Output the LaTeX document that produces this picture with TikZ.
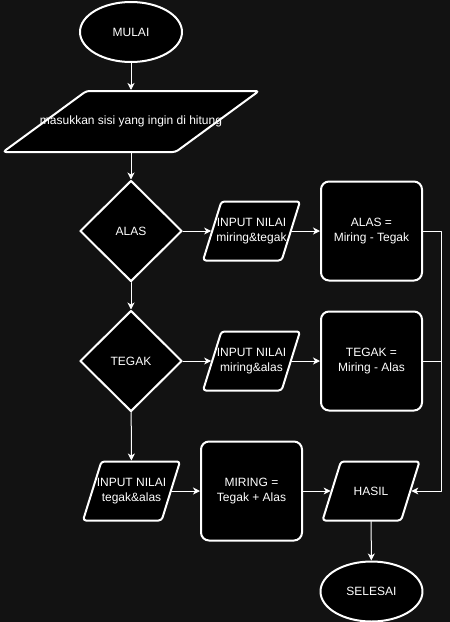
\documentclass[tikz,border=0pt]{standalone}
\usepackage{fontspec}
\setmainfont{Liberation Sans}
\usetikzlibrary{shapes.geometric,arrows.meta}

\begin{document}
\begin{tikzpicture}
		[x=1pt,y=-1pt,line cap=round,line join=round,
		%Styles
		base/.style={draw=white,line width=2pt,fill=black,text=white,font=\fontsize{12}{15}\selectfont,align=center,inner sep=2pt},
		terminal/.style={base,ellipse,minimum width=102pt,minimum height=60pt},
		decision/.style={base,diamond,minimum width=102pt,minimum height=101pt},
		process box/.style={base,rectangle,rounded corners=8pt,minimum width=101pt,minimum height=99pt},
		io box/.style={base,trapezium,trapezium stretches=true,trapezium left angle=73,trapezium right angle=107,rounded corners=3pt,minimum width=97pt,minimum height=59pt},
		io text/.style={draw=none,fill=none,text=white,font=\fontsize{12}{15}\selectfont,align=center,inner sep=0pt},
		flow line/.style={draw=white,line width=1pt,-{Stealth[length=7pt,width=7pt,inset=2pt]}},
		rail line/.style={draw=white,line width=1pt}
		]
		
		%Colors
		\colorlet{canvas}{black!93}	%background
		
		\fill[canvas] (0,0) rectangle (450,622);
		\useasboundingbox (0,0) rectangle (450,622);
		
		%The graphic
		\node[terminal] (mulai) at (131,32) {MULAI};
		\node[io box,trapezium left angle=47,trapezium right angle=133,minimum width=256pt,minimum height=61pt,
			label={[io text]center:masukkan sisi yang ingin di hitung}] (masuk) at (131,121.5) {};
		
		\node[decision] (alas) at (131,231) {ALAS};
		\node[io box,label={[io text]center:INPUT NILAI\\miring\&tegak}] (in1) at (251.5,231) {};
		\node[process box] (p1) at (371.5,231) {ALAS =\\Miring - Tegak};
		
		\node[decision] (tegak) at (131,361) {TEGAK};
		\node[io box,label={[io text]center:INPUT NILAI\\miring\&alas}] (in2) at (251.5,361) {};
		\node[process box] (p2) at (371.5,361) {TEGAK =\\Miring - Alas};
		
		\node[io box,label={[io text]center:INPUT NILAI\\tegak\&alas}] (in3) at (131.5,491) {};
		\node[process box] (p3) at (251.5,491) {MIRING =\\Tegak + Alas};
		\node[io box,label={[io text]center:HASIL}] (hasil) at (371,491) {};
		
		\node[terminal] (selesai) at (371.5,591.5) {SELESAI};
		
		\coordinate (rail) at (441,0);
		
		\draw[flow line] (mulai) -- (masuk);
		\draw[flow line] (masuk) -- (alas);
		\draw[flow line] (alas.east) -- (in1.west);
		\draw[flow line] (in1.east) -- (p1.west);
		\draw[flow line] (alas) -- (tegak);
		\draw[flow line] (tegak.east) -- (in2.west);
		\draw[flow line] (in2.east) -- (p2.west);
		\draw[flow line] (tegak) -- (in3);
		\draw[flow line] (in3.east) -- (p3.west);
		\draw[flow line] (p3.east) -- (hasil.west);
		\draw[flow line] (p1.east) -- (p1.east -| rail) |- (hasil.east);
		\draw[rail line] (p2.east) -- (p2.east -| rail);
		\draw[flow line] (hasil) -- (selesai);
	\end{tikzpicture}
\end{document}
